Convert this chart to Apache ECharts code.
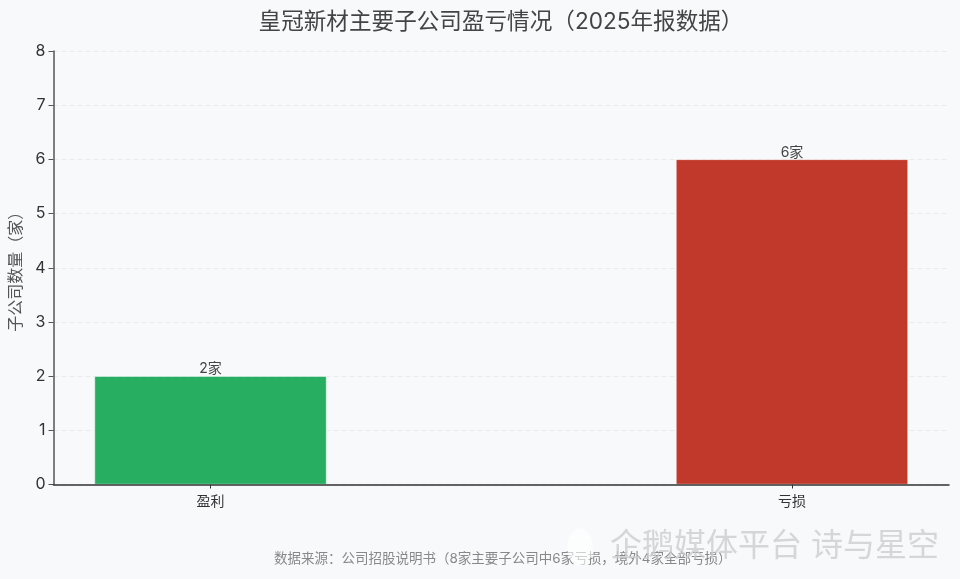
<!DOCTYPE html>
<html>
<head>
<meta charset="utf-8">
<style>
html, body { margin: 0; padding: 0; background: #f8f9fb; }
#chart { width: 960px; height: 579px; }
</style>
<script src="https://cdn.jsdelivr.net/npm/echarts@6/dist/echarts.min.js"></script>
</head>
<body>
<div id="chart"></div>
<script>
var categories = ['盈利', '亏损'];
var positions = [0, 1];
var companyCounts = [2, 6];
var barColors = ['#27ae60', '#c0392b'];
var yTicks = [0, 1, 2, 3, 4, 5, 6, 7, 8];

var titleText = '皇冠新材主要子公司盈亏情况（2025年报数据）';
var yName = '子公司数量（家）';
var sourceText = '数据来源：公司招股说明书（8家主要子公司中6家亏损，境外4家全部亏损）';
var markText = '企鹅媒体平台 诗与星空';

var font = 'Inter, "Noto Sans CJK SC", sans-serif';

var barData = [];
for (var i = 0; i < companyCounts.length; i++) {
	barData.push({
		value: [positions[i], companyCounts[i]],
		itemStyle: { color: barColors[i] }
	});
}

var chart = echarts.init(document.getElementById('chart'), null, { renderer: 'canvas' });
chart.setOption({
	backgroundColor: '#f8f9fb',
	animation: false,
	textStyle: { fontFamily: font },
	title: {
		text: titleText,
		left: 496,
		top: 6,
		textAlign: 'center',
		textStyle: { fontFamily: font, fontSize: 22.6, fontWeight: 'normal', color: '#444444' }
	},
	grid: { left: 53.5, right: 11, top: 51, bottom: 94.5, outerBoundsMode: 'none' },
	xAxis: {
		type: 'value',
		min: -0.27,
		max: 1.27,
		z: 5,
		splitLine: { show: false },
		axisLine: { onZero: false, lineStyle: { color: '#333333', width: 1.5 } },
		axisTick: { length: 4, customValues: positions, lineStyle: { color: '#333333', width: 1 } },
		axisLabel: {
			customValues: positions,
			margin: 10,
			fontSize: 14,
			color: '#333333',
			fontFamily: font,
			formatter: function (v) { return categories[Math.round(v)]; }
		}
	},
	yAxis: {
		type: 'value',
		min: yTicks[0],
		max: yTicks[yTicks.length - 1],
		interval: 1,
		name: yName,
		nameLocation: 'middle',
		nameGap: 26,
		nameTextStyle: { fontFamily: font, fontSize: 16, color: '#555555' },
		axisLine: { show: true, onZero: false, lineStyle: { color: '#555555', width: 1.5 } },
		axisTick: { show: true, length: 5, lineStyle: { color: '#555555', width: 1 } },
		axisLabel: { margin: 8, fontSize: 16, color: '#333333', fontFamily: font },
		splitLine: { show: true, lineStyle: { color: '#e9ebee', type: [5, 3], width: 1 } }
	},
	series: [{
		type: 'bar',
		barWidth: 232,
		data: barData,
		itemStyle: { borderColor: '#ffffff', borderWidth: 0.5 },
		label: {
			show: true,
			position: 'top',
			distance: 0,
			fontSize: 14,
			color: '#444444',
			fontFamily: font,
			formatter: function (p) { return p.value[1] + '家'; }
		}
	}],
	graphic: [
		{
			type: 'text',
			left: 274,
			top: 552,
			z: 5,
			style: {
				text: sourceText,
				fontFamily: font,
				fontSize: 13.5,
				fill: '#888888'
			}
		},
		{
			type: 'ellipse',
			z: 9,
			shape: { cx: 580, cy: 547, rx: 13, ry: 19 },
			style: { fill: 'rgba(255,255,255,0.6)' }
		},
		{
			type: 'text',
			left: 610,
			top: 530,
			z: 10,
			style: {
				text: markText,
				fontFamily: font,
				fontSize: 32,
				fill: 'rgba(205,205,205,0.8)'
			}
		}
	]
});
</script>
</body>
</html>
